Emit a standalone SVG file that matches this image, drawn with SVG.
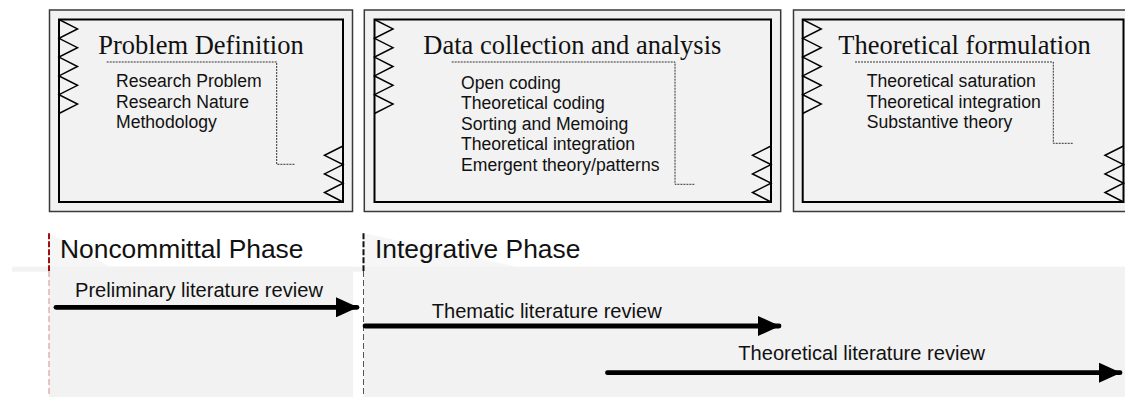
<svg xmlns="http://www.w3.org/2000/svg" width="1125" height="397" viewBox="0 0 1125 397">
<style>
.outer{fill:#f2f2f2;stroke:#3a3a3a;stroke-width:1.5}
.inner{fill:#f2f2f2;stroke:#000;stroke-width:2}
.zig{fill:none;stroke:#000;stroke-width:1.5;stroke-linejoin:miter}
.dot{fill:none;stroke:#333;stroke-width:1;stroke-dasharray:2,1}
.title{font-family:"Liberation Serif","Times New Roman",serif;font-size:26.5px;fill:#111}
.body{font-family:"Liberation Sans",Arial,sans-serif;font-size:17.6px;fill:#111}
.phase{font-family:"Liberation Sans",Arial,sans-serif;font-size:26.4px;fill:#111}
.lbl{font-family:"Liberation Sans",Arial,sans-serif;font-size:20.1px;fill:#111}
.arr{fill:none;stroke:#000;stroke-width:4.8;stroke-linecap:round}
.bg{fill:#f2f2f2}
</style>
<defs>
<marker id="ah" markerWidth="22" markerHeight="20" refX="21" refY="10" orient="auto" markerUnits="userSpaceOnUse">
<path d="M0,0 L22,10 L0,20 Z" fill="#000"/>
</marker>
</defs>

<g id="background">
<polygon points="49,233 110,266.7 49,266.7" fill="#f6f6f6"/>
<polygon points="363.5,233 517,266.7 363.5,266.7" fill="#f6f6f6"/>
<rect class="bg" x="12" y="266.7" width="351.5" height="5"/>
<rect class="bg" x="49" y="266.7" width="304" height="130.3"/>
<rect class="bg" x="363.5" y="266.7" width="761.5" height="130.3"/>
</g>

<g id="node-problem-definition">
<rect class="outer" x="49.5" y="10" width="303" height="201.5"/>
<rect class="inner" x="59" y="19.5" width="284" height="182.5"/>
<path class="zig" d="M59,19.5 L77.5,28.9 L59,38.3 L77.5,47.7 L59,57.1 L77.5,66.5 L59,75.9 L77.5,85.3 L59,94.7 L77.5,104.1 L59,113.5"/>
<path class="zig" d="M343,146 L324.5,155.3 L343,164.6 L324.5,173.9 L343,183.2 L324.5,192.5 L343,202"/>
<path class="dot" d="M106.7,62 H276.7 V164.3 H295"/>
<text class="title" x="98.3" y="54">Problem Definition</text>
<text class="body" x="116" y="87">Research Problem</text>
<text class="body" x="116" y="107.5">Research Nature</text>
<text class="body" x="116" y="128">Methodology</text>
</g>

<g id="node-data-collection">
<rect class="outer" x="364.3" y="10" width="416.4" height="201.5"/>
<rect class="inner" x="374.5" y="19.5" width="396.5" height="182.5"/>
<path class="zig" d="M374.5,19.5 L393,28.9 L374.5,38.3 L393,47.7 L374.5,57.1 L393,66.5 L374.5,75.9 L393,85.3 L374.5,94.7 L393,104.1 L374.5,113.5"/>
<path class="zig" d="M771,146 L752.5,155.3 L771,164.6 L752.5,173.9 L771,183.2 L752.5,192.5 L771,202"/>
<path class="dot" d="M451.7,62 H675 V184.3 H694.3"/>
<text class="title" x="423.3" y="54">Data collection and analysis</text>
<text class="body" x="461" y="88.5">Open coding</text>
<text class="body" x="461" y="109">Theoretical coding</text>
<text class="body" x="461" y="129.5">Sorting and Memoing</text>
<text class="body" x="461" y="150">Theoretical integration</text>
<text class="body" x="461" y="170.5">Emergent theory/patterns</text>
</g>

<g id="node-theoretical-formulation">
<rect class="outer" x="793.5" y="10" width="345" height="201.5"/>
<rect class="inner" x="802.7" y="19.5" width="320.8" height="182.5"/>
<path class="zig" d="M802.7,19.5 L821.2,28.9 L802.7,38.3 L821.2,47.7 L802.7,57.1 L821.2,66.5 L802.7,75.9 L821.2,85.3 L802.7,94.7 L821.2,104.1 L802.7,113.5"/>
<path class="zig" d="M1123.5,146 L1105,155.3 L1123.5,164.6 L1105,173.9 L1123.5,183.2 L1105,192.5 L1123.5,202"/>
<path class="dot" d="M855,62 H1053.3 V143.3 H1073.3"/>
<text class="title" x="838.3" y="54">Theoretical formulation</text>
<text class="body" x="866.7" y="87">Theoretical saturation</text>
<text class="body" x="866.7" y="107.5">Theoretical integration</text>
<text class="body" x="866.7" y="128">Substantive theory</text>
</g>

<g id="phase-noncommittal">
<line x1="49" y1="233.3" x2="49" y2="271" stroke="#a01010" stroke-width="2" stroke-dasharray="6,2"/>
<line x1="49" y1="271" x2="49" y2="397" stroke="#d98c8c" stroke-width="1" stroke-dasharray="6,3"/>
<text class="phase" x="60" y="258.3">Noncommittal Phase</text>
</g>

<g id="phase-integrative">
<line x1="363.5" y1="233.3" x2="363.5" y2="271" stroke="#111" stroke-width="2" stroke-dasharray="6,2"/>
<line x1="363.5" y1="271" x2="363.5" y2="397" stroke="#555" stroke-width="1" stroke-dasharray="6,3"/>
<text class="phase" x="375" y="258.3">Integrative Phase</text>
</g>

<g id="connectors">
<line class="arr" x1="56" y1="307.3" x2="357" y2="307.3" marker-end="url(#ah)"/>
<text class="lbl" x="75" y="296.7">Preliminary literature review</text>
<line class="arr" x1="365" y1="326" x2="779" y2="326" marker-end="url(#ah)"/>
<text class="lbl" x="431.7" y="318.3">Thematic literature review</text>
<line class="arr" x1="607.5" y1="372.7" x2="1120" y2="372.7" marker-end="url(#ah)"/>
<text class="lbl" x="738.3" y="360">Theoretical literature review</text>
</g>
</svg>
